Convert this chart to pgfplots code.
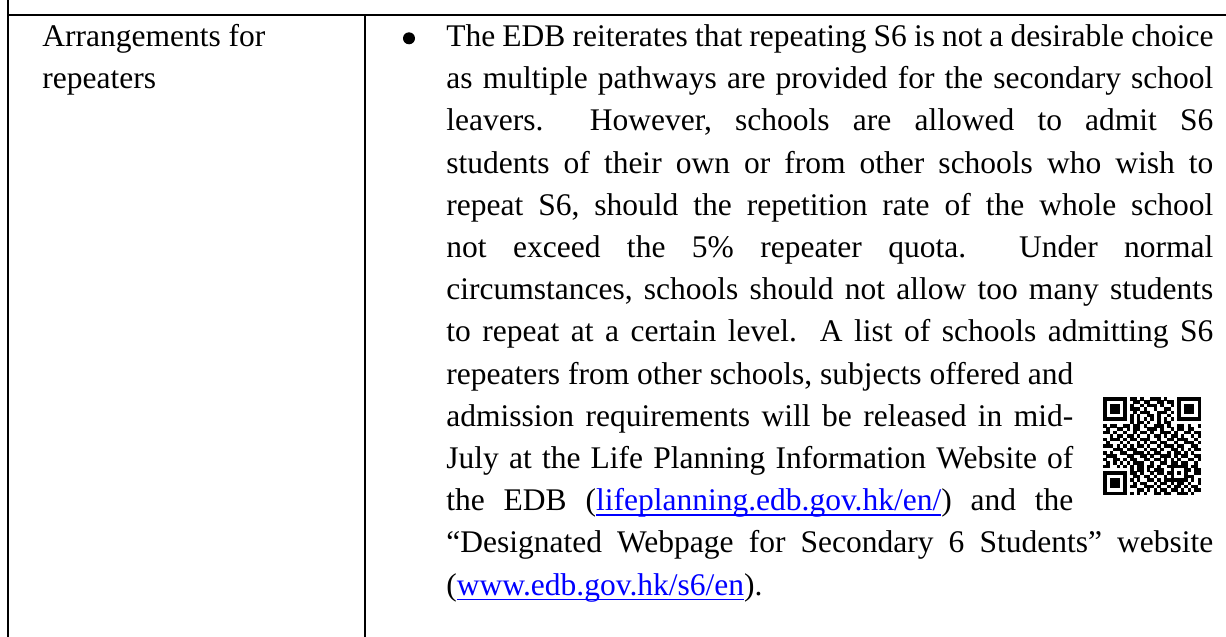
\documentclass[border=0pt]{standalone}
\usepackage{pgfplots}
\pgfplotsset{compat=1.18}
\usepackage{fontspec}
\setmainfont{Liberation Serif}
\definecolor{linkblue}{RGB}{0,0,255}
\newbox\linkbox
\newcommand\link[1]{\setbox\linkbox\hbox{#1}\rlap{\color{linkblue}\rule[-2.5pt]{\wd\linkbox}{0.65pt}}\textcolor{linkblue}{#1}}
\newcommand\jline[2]{\makebox[#1][s]{#2}}
\def\W{383.5pt}
\def\Wn{313.5pt}
\tikzset{txt/.style={anchor=base west, inner sep=0pt, font=\fontsize{15.75pt}{21pt}\selectfont}}
\newcount\qrc
\def\qrm{3.38}
\def\qrrow#1#2{\qrc=0 \def\qry{#1}\qrloop#2.}
\def\qrloop#1{\ifx.#1\else
  \ifx1#1\pgfmathsetmacro\qa{1103+\the\qrc*\qrm}\pgfmathsetmacro\qb{397+\qry*\qrm}%
  \pgfmathsetmacro\qaa{\qa+\qrm+0.15}\pgfmathsetmacro\qbb{\qb+\qrm+0.15}%
  \fill[black] (axis cs:\qa,\qb) rectangle (axis cs:\qaa,\qbb);\fi
  \advance\qrc by 1
  \expandafter\qrloop\fi}
\begin{document}
\frenchspacing
\begin{tikzpicture}
\begin{axis}[width=613pt, height=318.5pt, scale only axis, xmin=0, xmax=1226, ymin=0, ymax=637, y dir=reverse, hide axis]
\addplot[draw=none, fill=white] coordinates {(0,0) (1226,0) (1226,637) (0,637)} -- cycle;
% table rules
\addplot[black, line width=1pt] coordinates {(8,0) (8,637)};
\addplot[black, line width=1pt] coordinates {(8,15) (1226,15)};
\addplot[black, line width=1pt] coordinates {(365,15) (365,637)};
% left column
\node[txt] at (axis cs:42,46.5) {Arrangements for};
\node[txt] at (axis cs:42,88.7) {repeaters};
% bullet
\node[circle, fill=black, inner sep=0pt, minimum size=6pt] at (axis cs:409,38.3) {};
% right column
\node[txt] at (axis cs:446,46.5) {\jline{\W}{The EDB reiterates that repeating S6 is not a desirable choice}};
\node[txt] at (axis cs:446,88.7) {\jline{\W}{as multiple pathways are provided for the secondary school}};
\node[txt] at (axis cs:446,130.9) {\jline{\W}{leavers.~ However, schools are allowed to admit S6}};
\node[txt] at (axis cs:446,173.1) {\jline{\W}{students of their own or from other schools who wish to}};
\node[txt] at (axis cs:446,215.3) {\jline{\W}{repeat S6, should the repetition rate of the whole school}};
\node[txt] at (axis cs:446,257.5) {\jline{\W}{not exceed the 5\% repeater quota.~ Under normal}};
\node[txt] at (axis cs:446,299.7) {\jline{\W}{circumstances, schools should not allow too many students}};
\node[txt] at (axis cs:446,341.9) {\jline{\W}{to repeat at a certain level.~ A list of schools admitting S6}};
\node[txt] at (axis cs:446,384.1) {\jline{\Wn}{repeaters from other schools, subjects offered and}};
\node[txt] at (axis cs:446,426.3) {\jline{\Wn}{admission requirements will be released in mid-}};
\node[txt] at (axis cs:446,468.5) {\jline{\Wn}{July at the Life Planning Information Website of}};
\node[txt] at (axis cs:446,510.7) {\jline{\Wn}{the EDB (\link{lifeplanning.edb.gov.hk/en/}) and the}};
\node[txt] at (axis cs:446,552.9) {\jline{\W}{“Designated Webpage for Secondary 6 Students” website}};
\node[txt] at (axis cs:446,595.1) {(\link{www.edb.gov.hk/s6/en}).};
% QR code
\pgfplotsextra{%
\qrrow{0}{1111111 0 1101001110100 0 1111111}
\qrrow{1}{1000001 0 0110110011011 0 1000001}
\qrrow{2}{1011101 0 1001011101001 0 1011101}
\qrrow{3}{1011101 0 1110100100110 0 1011101}
\qrrow{4}{1011101 0 0101110011101 0 1011101}
\qrrow{5}{1000001 0 1010011010010 0 1000001}
\qrrow{6}{1111111 0 1010101010101 0 1111111}
\qrrow{7}{0000000 0 1011010010110 0 0000000}
\qrrow{8}{101100 1 1 0110100111010 01101001}
\qrrow{9}{010011 0 1011001110100101101100}
\qrrow{10}{110100 1 0010110100111010011011}
\qrrow{11}{001011 0 1101001011010110100101}
\qrrow{12}{101110 1 0110111001001101110010}
\qrrow{13}{010001 0 1001010110110010011101}
\qrrow{14}{111010 1 0101101001011101100110}
\qrrow{15}{000111 0 1110010110100110101011}
\qrrow{16}{101001 1 0011101011001011010100}
\qrrow{17}{011100 0 1100110100111010110011}
\qrrow{18}{100110 1 0110011011010101001101}
\qrrow{19}{010101 0 1011100100110110110010}
\qrrow{20}{110010 1 0101101101001 11111 0110}
\qrrow{21}{00000000 1 01101011100 10001 1011}
\qrrow{22}{1111111 0 110100101101 10101 0011}
\qrrow{23}{1000001 0 011011010010 10001 1100}
\qrrow{24}{1011101 0 101001101011 11111 0101}
\qrrow{25}{1011101 0 010110010110101101001}
\qrrow{26}{1011101 0 110011101001011010110}
\qrrow{27}{1000001 0 001101010110110101011}
\qrrow{28}{1111111 0 101010011011001110100}
}
\end{axis}
\end{tikzpicture}
\end{document}
